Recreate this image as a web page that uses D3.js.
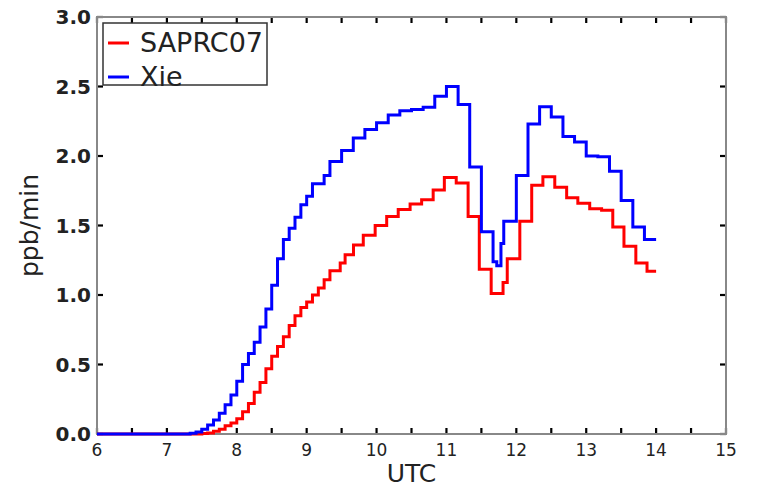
<!DOCTYPE html>
<html>
<head>
<meta charset="utf-8">
<script src="https://cdn.jsdelivr.net/npm/d3@7"></script>
<style>
  body { margin: 0; background: #fff; }
  svg { font-family: "DejaVu Sans", sans-serif; }
</style>
</head>
<body>
<div id="chart"></div>
<script>
// step series, values hold from each time until the next one
const xieTime = [6.0, 7.333, 7.417, 7.5, 7.583, 7.667, 7.75, 7.833, 7.917, 8.0, 8.083, 8.167, 8.25, 8.333, 8.417,
  8.5, 8.583, 8.667, 8.75, 8.833, 8.917, 9.0, 9.083, 9.25, 9.333, 9.5, 9.667, 9.833, 10.0, 10.167, 10.333,
  10.5, 10.667, 10.833, 11.0, 11.167, 11.333, 11.5, 11.667, 11.72, 11.78, 11.82, 12.0, 12.167, 12.333,
  12.5, 12.667, 12.833, 13.0, 13.167, 13.333, 13.5, 13.667, 13.833, 14.0];
const xieValue = [0, 0.005, 0.015, 0.035, 0.065, 0.10, 0.15, 0.21, 0.28, 0.38, 0.50, 0.58, 0.66, 0.77, 0.90,
  1.07, 1.26, 1.40, 1.48, 1.56, 1.65, 1.71, 1.80, 1.86, 1.96, 2.04, 2.13, 2.19, 2.24, 2.295, 2.325,
  2.335, 2.35, 2.43, 2.50, 2.37, 1.92, 1.455, 1.24, 1.21, 1.37, 1.53, 1.86, 2.23, 2.355,
  2.28, 2.14, 2.10, 2.00, 1.995, 1.89, 1.68, 1.49, 1.40, 1.40];

const saprcTime = [6.0, 7.5, 7.583, 7.667, 7.75, 7.833, 7.917, 8.0, 8.083, 8.167, 8.25, 8.333, 8.417, 8.5,
  8.583, 8.667, 8.75, 8.833, 8.917, 9.0, 9.083, 9.167, 9.25, 9.333, 9.48, 9.55, 9.67, 9.81, 9.98, 10.145,
  10.31, 10.48, 10.645, 10.81, 10.97, 11.14, 11.31, 11.47, 11.64, 11.81, 11.87, 12.05, 12.22, 12.38,
  12.55, 12.72, 12.88, 13.05, 13.22, 13.38, 13.54, 13.71, 13.87, 14.0];
const saprcValue = [0, 0.003, 0.008, 0.02, 0.035, 0.06, 0.08, 0.11, 0.16, 0.22, 0.30, 0.37, 0.47, 0.56,
  0.63, 0.70, 0.78, 0.85, 0.91, 0.95, 1.00, 1.05, 1.11, 1.175, 1.23, 1.29, 1.36, 1.43, 1.50, 1.565,
  1.615, 1.655, 1.685, 1.755, 1.845, 1.805, 1.565, 1.185, 1.01, 1.09, 1.26, 1.53, 1.79, 1.85,
  1.775, 1.70, 1.66, 1.62, 1.61, 1.49, 1.35, 1.23, 1.17, 1.17];

const xTicks = d3.range(6, 15.01, 0.5);
const xLabels = d3.range(6, 16, 1);
const yTicks = [0, 0.5, 1.0, 1.5, 2.0, 2.5, 3.0];

const series = [
  { name: "SAPRC07", color: "#ff0000", time: saprcTime, value: saprcValue },
  { name: "Xie", color: "#0000ff", time: xieTime, value: xieValue }
];

const W = 763, H = 495;
const margin = { top: 17, right: 37, bottom: 61, left: 97 };

const svg = d3.select("#chart").append("svg")
  .attr("width", W)
  .attr("height", H);

const x = d3.scaleLinear().domain([6, 15]).range([margin.left, W - margin.right]);
const y = d3.scaleLinear().domain([0, 3]).range([H - margin.bottom, margin.top]);

// tick marks pointing inward on all four sides
const tickLen = 6;
const ticks = svg.append("g").attr("stroke", "#000").attr("stroke-width", 2.2);
xTicks.forEach(t => {
  ticks.append("line").attr("x1", x(t)).attr("x2", x(t))
    .attr("y1", y(0)).attr("y2", y(0) - tickLen);
  ticks.append("line").attr("x1", x(t)).attr("x2", x(t))
    .attr("y1", y(3)).attr("y2", y(3) + tickLen);
});
yTicks.forEach(v => {
  ticks.append("line").attr("x1", x(6)).attr("x2", x(6) + tickLen)
    .attr("y1", y(v)).attr("y2", y(v));
  ticks.append("line").attr("x1", x(15)).attr("x2", x(15) - tickLen)
    .attr("y1", y(v)).attr("y2", y(v));
});

// frame
svg.append("rect")
  .attr("x", x(6)).attr("y", y(3))
  .attr("width", x(15) - x(6)).attr("height", y(0) - y(3))
  .attr("fill", "none")
  .attr("stroke", "#888")
  .attr("stroke-width", 2);

// step lines
const line = d3.line()
  .x(d => x(d[0]))
  .y(d => y(d[1]))
  .curve(d3.curveStepAfter);

series.forEach(s => {
  svg.append("path")
    .datum(s.time.map((t, i) => [t, s.value[i]]))
    .attr("fill", "none")
    .attr("stroke", s.color)
    .attr("stroke-width", 3)
    .attr("d", line);
});

// tick labels
svg.append("g").selectAll("text")
  .data(xLabels)
  .enter().append("text")
  .attr("x", d => x(d))
  .attr("y", y(0) + 22)
  .attr("text-anchor", "middle")
  .attr("font-size", 17)
  .attr("fill", "#222")
  .text(d => d);

svg.append("g").selectAll("text")
  .data(yTicks)
  .enter().append("text")
  .attr("x", x(6) - 6)
  .attr("y", d => y(d) + 7)
  .attr("text-anchor", "end")
  .attr("font-size", 20)
  .attr("font-weight", "bold")
  .attr("fill", "#222")
  .text(d => d.toFixed(1));

// axis titles
svg.append("text")
  .attr("x", (x(6) + x(15)) / 2)
  .attr("y", 482)
  .attr("text-anchor", "middle")
  .attr("font-size", 25)
  .attr("fill", "#222")
  .text("UTC");

svg.append("text")
  .attr("transform", `translate(38,${(y(0) + y(3)) / 2}) rotate(-90)`)
  .attr("text-anchor", "middle")
  .attr("font-size", 25)
  .attr("fill", "#222")
  .text("ppb/min");

// legend
const legend = svg.append("g");
legend.append("rect")
  .attr("x", 103).attr("y", 23)
  .attr("width", 164).attr("height", 62)
  .attr("fill", "#fff")
  .attr("stroke", "#333")
  .attr("stroke-width", 1.5);

series.forEach((s, i) => {
  const ly = 43 + i * 34;
  legend.append("line")
    .attr("x1", 108).attr("x2", 129)
    .attr("y1", ly).attr("y2", ly)
    .attr("stroke", s.color)
    .attr("stroke-width", 3);
  legend.append("text")
    .attr("x", 140)
    .attr("y", ly + 9)
    .attr("font-size", 27)
    .attr("fill", "#222")
    .text(s.name);
});
</script>
</body>
</html>
